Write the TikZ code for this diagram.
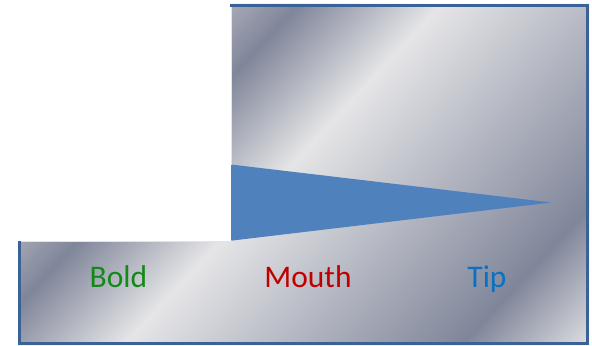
\documentclass[tikz,border=0pt]{standalone}
\usepackage{fontspec}
\setmainfont{Carlito}
\definecolor{mmid}{HTML}{A4A7B4}
\definecolor{mdark}{HTML}{80869A}
\definecolor{mlight}{HTML}{E5E5E7}
\definecolor{mend}{HTML}{DEDFE2}
\definecolor{edgeblue}{HTML}{3B6296}
\definecolor{edgelight}{HTML}{E2E3E6}
\definecolor{wedgeblue}{HTML}{4F81BD}
\definecolor{boldgreen}{HTML}{138A17}
\definecolor{mouthred}{HTML}{C00000}
\definecolor{tipblue}{HTML}{0A70C4}
\pgfdeclarehorizontalshading{metal}{100bp}{color(0bp)=(mmid); color(37.2bp)=(mmid); color(40.8bp)=(mdark); color(48.8bp)=(mlight); color(67.8bp)=(mdark); color(75bp)=(mend); color(100bp)=(mend)}
\tikzset{
  lbl/.style={anchor=base, inner sep=0pt, font=\fontsize{31.5bp}{36bp}\selectfont},
  rim/.style={draw=edgeblue, line width=3bp},
  innerrim/.style={draw=edgelight, line width=1bp},
}
\begin{document}
\begin{tikzpicture}[x=1bp,y=1bp]
\useasboundingbox (0,0) rectangle (592,345);
% L-shaped metal plate
\begin{scope}
  \clip (18,0) -- (18,104) -- (231,104) -- (231,341) -- (589,341) -- (589,0) -- cycle;
  \shade[shading=metal, transform canvas={shift={(303.5,170.5)}, rotate=-43}] (-325,-500) rectangle (325,500);
\end{scope}
% wedge
\fill[wedgeblue, rounded corners=0.8bp] (231,180.5) -- (551.5,142.5) -- (231,104.3) -- cycle;
% edges
\path[innerrim] (231.5,338) -- (231.5,180.5);
\path[innerrim] (21,104) -- (231,104);
\path[rim] (230,339.5) -- (587.5,339.5) -- (587.5,1.5) -- (19.5,1.5) -- (19.5,104.5);
% labels
\node[lbl, text=boldgreen] (bold) at (118.5,58) {Bold};
\node[lbl, text=mouthred] (mouth) at (308,58) {Mouth};
\node[lbl, text=tipblue] (tip) at (487,58) {Tip};
\end{tikzpicture}
\end{document}
